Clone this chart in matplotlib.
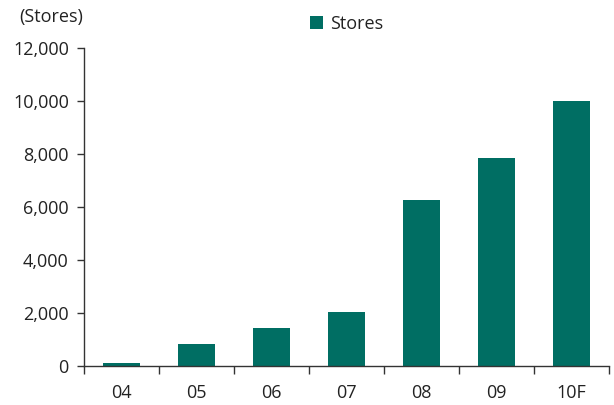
import matplotlib
matplotlib.use("Agg")
import matplotlib.pyplot as plt
import numpy as np

plt.rcParams['font.family'] = ['Open Sans', 'DejaVu Sans']

years = ['04', '05', '06', '07', '08', '09', '10F']
stores = [100, 850, 1450, 2050, 6280, 7860, 10000]

bar_color = '#006e63'
text_color = '#222222'

fig = plt.figure(figsize=(6.14, 4.05), dpi=100)
ax = fig.add_axes([0.137, 0.096, 0.855, 0.786])

x = np.arange(len(years))
ax.bar(x, stores, width=0.5, color=bar_color, label='Stores')

ax.set_xlim(-0.5, len(years) - 0.5)
ax.set_ylim(0, 12000)
ax.set_yticks(np.arange(0, 12001, 2000))
ax.set_yticklabels([f'{v:,}' for v in range(0, 12001, 2000)])
ax.set_xticks(x)
ax.set_xticklabels(years)
ax.set_xticks(np.arange(-0.5, len(years)), minor=True)

ax.tick_params(axis='x', which='major', length=0, pad=13, labelsize=13, labelcolor=text_color)
ax.tick_params(axis='x', which='minor', length=6, width=1, direction='out', color='#333333')
ax.tick_params(axis='y', length=5, width=1, direction='out', pad=6, labelsize=13,
               labelcolor=text_color, color='#333333')

for side in ['top', 'right']:
    ax.spines[side].set_visible(False)
for side in ['left', 'bottom']:
    ax.spines[side].set_color('#333333')
    ax.spines[side].set_linewidth(1)

fig.text(0.031, 0.958, '(Stores)', fontsize=13, color=text_color, va='center')

ax.legend(loc='center', bbox_to_anchor=(0.5, 1.075), frameon=False, fontsize=13,
          handlelength=0.7, handleheight=0.7, handletextpad=0.4, labelcolor=text_color)

fig.savefig('out.png', dpi=100)
